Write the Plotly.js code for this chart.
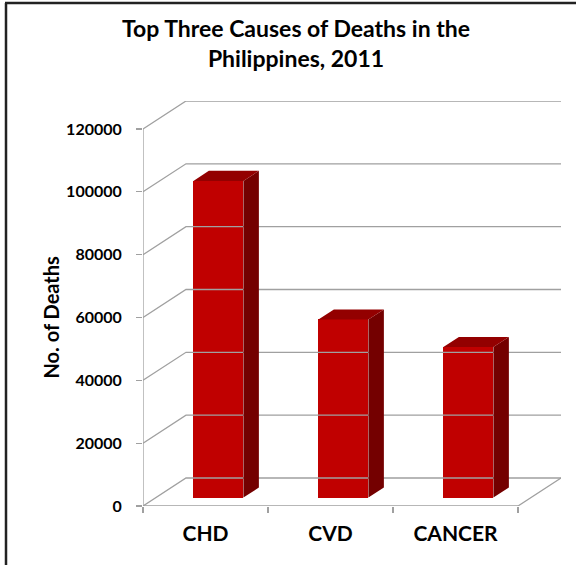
<!DOCTYPE html>
<html>
<head>
<meta charset="utf-8">
<script src="https://cdn.plot.ly/plotly-3.0.1.min.js"></script>
<style>
  html, body { margin: 0; padding: 0; background: #fff; }
  #chart { width: 576px; height: 565px; }
</style>
</head>
<body>
<div id="chart"></div>
<script>
// ---- data ----
const categories = ['CHD', 'CVD', 'CANCER'];
const deaths = [100800, 56700, 47900];
const yTickValues = [0, 20000, 40000, 60000, 80000, 100000, 120000];
const chartTitle = 'Top Three Causes of Deaths in the<br>Philippines, 2011';
const yTitle = 'No. of Deaths';

// ---- faux 3D geometry (depth of the box, in axis units) ----
const yMax = 120000;
const DX = 0.344;          // horizontal depth offset in category units
const DY = 8912;           // vertical depth offset in value units
const dFront = 0.30;       // bar front plane (fraction of depth)
const dBack = 0.66;        // bar back plane
const halfW = 0.2;         // half bar width

const gridColor = '#A0A0A0';
const FONT = 'Lato, "Open Sans", sans-serif';

// Grid / walls / floor
const gx = [], gy = [];
yTickValues.forEach(v => {
  gx.push(-0.5, -0.5 + DX, 2.5 + DX, null);
  gy.push(v, v + DY, v + DY, null);
});
// floor front edge and right side
gx.push(-0.5, 2.5, 2.5 + DX, null);
gy.push(0, 0, DY, null);
// front vertical axis line
gx.push(-0.5, -0.5);
gy.push(0, yMax);

const gridTrace = {
  type: 'scatter', mode: 'lines', x: gx, y: gy,
  line: { color: gridColor, width: 1.3 },
  hoverinfo: 'skip', showlegend: false
};

// bar front faces
const frontTrace = {
  type: 'bar',
  x: categories.map((c, i) => i),
  y: deaths,
  base: deaths.map(() => dFront * DY),
  offset: -halfW + dFront * DX,
  width: 2 * halfW,
  marker: { color: '#C00000', line: { width: 0 } },
  showlegend: false,
  hovertemplate: '%{y}<extra></extra>'
};

// side and top faces
const sx = [], sy = [];
const tx = [], ty = [];
deaths.forEach((v, i) => {
  const xr1 = i + halfW + dFront * DX, xr2 = i + halfW + dBack * DX;
  const xl1 = i - halfW + dFront * DX, xl2 = i - halfW + dBack * DX;
  const b1 = dFront * DY, b2 = dBack * DY;
  sx.push(xr1, xr2, xr2, xr1, xr1, null);
  sy.push(b1, b2, v + b2, v + b1, b1, null);
  tx.push(xl1, xr1, xr2, xl2, xl1, null);
  ty.push(v + b1, v + b1, v + b2, v + b2, v + b1, null);
});
const sideTrace = {
  type: 'scatter', mode: 'lines', x: sx, y: sy, fill: 'toself',
  fillcolor: '#740000', line: { width: 0, color: '#740000' },
  hoverinfo: 'skip', showlegend: false
};
const topTrace = {
  type: 'scatter', mode: 'lines', x: tx, y: ty, fill: 'toself',
  fillcolor: '#930000', line: { width: 0, color: '#930000' },
  hoverinfo: 'skip', showlegend: false
};

// dummy trace for the boundary tick axis
const tickTrace = {
  type: 'scatter', mode: 'markers', x: [-0.5], y: [0], xaxis: 'x2',
  marker: { opacity: 0 }, hoverinfo: 'skip', showlegend: false
};

const W = 576, H = 565;
const mL = 143, mR = 15, mT = 101, mB = 59;
const pw = W - mL - mR, ph = H - mT - mB;
const px = p => (p - mL) / pw;
const py = p => (H - mB - p) / ph;

const layout = {
  width: W, height: H,
  margin: { l: mL, r: mR, t: mT, b: mB },
  paper_bgcolor: '#ffffff', plot_bgcolor: '#ffffff',
  font: { family: FONT, color: '#000' },
  title: {
    text: '<b>' + chartTitle + '</b>',
    font: { family: FONT, size: 23, color: '#000' },
    x: 296 / W, xanchor: 'center', y: 1 - 37 / H, yanchor: 'middle'
  },
  bargap: 0,
  xaxis: {
    range: [-0.5, 2.5 + DX],
    tickmode: 'array',
    tickvals: categories.map((c, i) => i),
    ticktext: categories.map(c => '<b>' + c + '</b>'),
    ticks: 'outside', ticklen: 9, tickcolor: 'rgba(0,0,0,0)',
    tickfont: { family: FONT, size: 21, color: '#000' },
    showgrid: false, zeroline: false, showline: false, fixedrange: true
  },
  xaxis2: {
    overlaying: 'x', matches: 'x', anchor: 'y', side: 'bottom',
    range: [-0.5, 2.5 + DX],
    tickmode: 'array', tickvals: [-0.5, 0.5, 1.5, 2.5],
    ticks: 'outside', ticklen: 6, tickcolor: gridColor, tickwidth: 1.3,
    showticklabels: false, showgrid: false, zeroline: false, showline: false
  },
  yaxis: {
    range: [0, yMax + DY],
    tickmode: 'array', tickvals: yTickValues,
    ticktext: yTickValues.map(v => '<b>' + v + '</b>'),
    ticks: 'outside', ticklen: 6, tickcolor: gridColor, tickwidth: 1.3,
    ticklabelstandoff: 11,
    tickfont: { family: FONT, size: 16, color: '#000' },
    showgrid: false, zeroline: false, showline: false, fixedrange: true
  },
  annotations: [{
    text: '<b>' + yTitle + '</b>', textangle: -90,
    xref: 'paper', yref: 'y', x: px(50), y: yMax / 2,
    xanchor: 'center', yanchor: 'middle', showarrow: false,
    font: { family: FONT, size: 20, color: '#000' }
  }],
  shapes: [
    { type: 'line', xref: 'paper', yref: 'paper', x0: px(6), x1: px(6), y0: py(565), y1: py(3),
      line: { color: '#222', width: 2.5 } },
    { type: 'line', xref: 'paper', yref: 'paper', x0: px(5), x1: px(576), y0: py(3), y1: py(3),
      line: { color: '#222', width: 2.5 } }
  ],
  showlegend: false
};

Plotly.newPlot('chart', [gridTrace, tickTrace, frontTrace, sideTrace, topTrace], layout,
  { displayModeBar: false, staticPlot: true });
</script>
</body>
</html>
